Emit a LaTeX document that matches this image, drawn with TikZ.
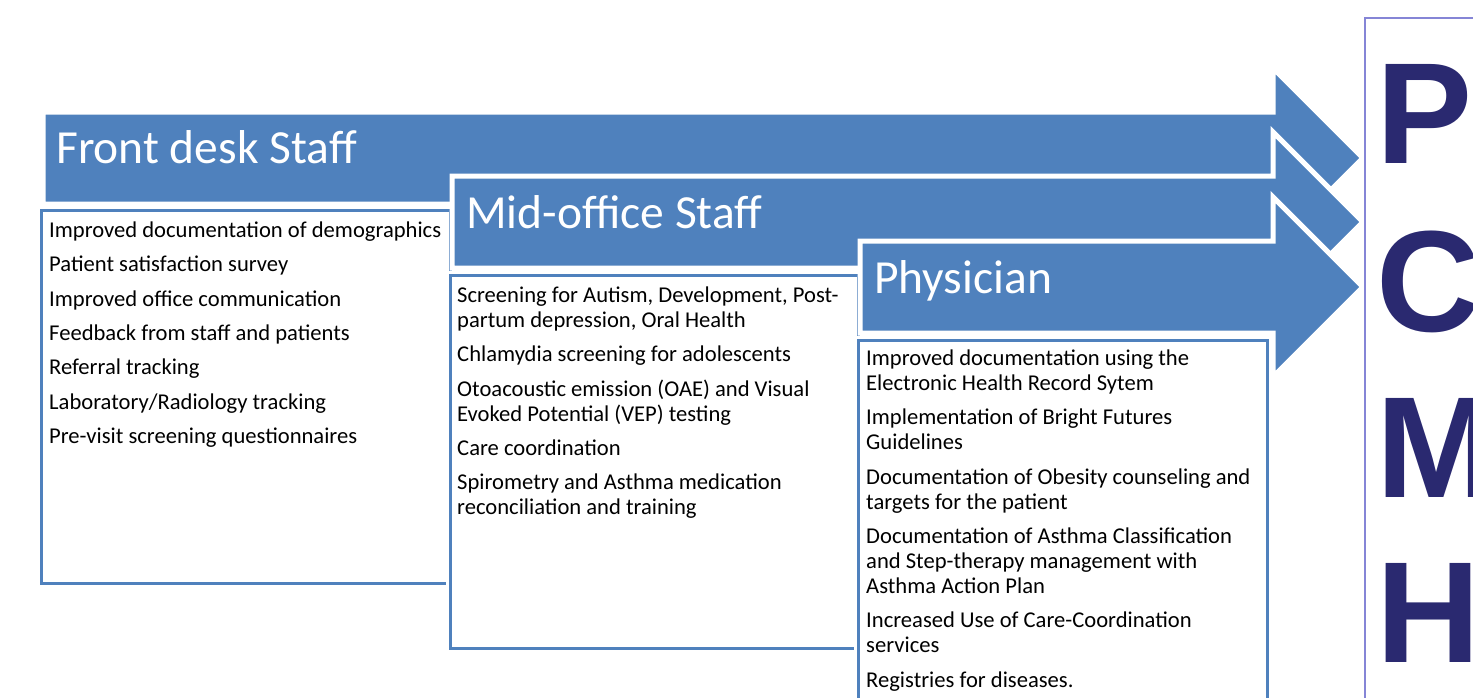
\documentclass[tikz,border=0pt]{standalone}
\usepackage{fontspec}
\setmainfont{Carlito}
\newfontfamily\pcmhfont{Liberation Sans}
\usetikzlibrary{positioning}
\definecolor{stageblue}{HTML}{4F81BD}
\definecolor{pcmhnavy}{HTML}{2A2970}
\definecolor{pcmhframe}{HTML}{8585D6}
% first line of a list always 17pt high
\newcommand{\topline}{\rule{0pt}{17pt}}

\begin{document}
\begin{tikzpicture}[x=1pt, y=-1pt,
  stage/.style={fill=stageblue, draw=white, line width=5pt},
  stagetitle/.style={text=white, font=\fontsize{47.5}{50}\selectfont, anchor=base west, inner sep=0},
  listbox/.style={draw=stageblue, line width=3pt, fill=white, outer sep=0, inner sep=0, anchor=north west, preaction={draw=white, line width=8pt}},
  items/.style={font=\fontsize{22.6}{25}\selectfont, align=left, anchor=north west, inner sep=0},
  pcmhletter/.style={text=pcmhnavy, font=\pcmhfont\bfseries\fontsize{144}{144}\selectfont, anchor=base west, inner sep=0}]
\useasboundingbox (0,0) rectangle (1473,697);
\clip (0,0) rectangle (1473,697);

% front desk staff
\path[stage] (43,112) -- (1273,112) -- (1273,68) -- (1363,158) -- (1273,248) -- (1273,204) -- (43,204) -- cycle;
\node[stagetitle] (front title) at (56,163) {Front desk Staff};
\node[listbox, minimum width=409pt, minimum height=373pt] (front box) at (41,210) {};
\node[items] (front list) at (49,220) {\topline Improved documentation of demographics\\[9.4pt]
  Patient satisfaction survey\\[9.4pt]
  Improved office communication\\[9.4pt]
  Feedback from staff and patients\\[9.4pt]
  Referral tracking\\[9.4pt]
  Laboratory/Radiology tracking\\[9.4pt]
  Pre-visit screening questionnaires};

% mid-office staff
\path[stage] (452,176) -- (1273,176) -- (1273,132) -- (1363,222) -- (1273,312) -- (1273,268) -- (452,268) -- cycle;
\node[stagetitle] (mid title) at (466,228) {Mid-office Staff};
\node[listbox, minimum width=408pt, minimum height=373pt] (mid box) at (450,275) {};
\node[items] (mid list) at (457,285) {\topline Screening for Autism, Development, Post-\\partum depression, Oral Health\\[9.4pt]
  Chlamydia screening for adolescents\\[9.4pt]
  Otoacoustic emission (OAE) and Visual\\Evoked Potential (VEP) testing\\[9.4pt]
  Care coordination\\[9.4pt]
  Spirometry and Asthma medication\\reconciliation and training};

% physician
\path[stage] (860,241) -- (1273,241) -- (1273,197) -- (1363,287) -- (1273,377) -- (1273,333) -- (860,333) -- cycle;
\node[stagetitle] (phys title) at (874,293) {Physician};
\node[listbox, minimum width=409pt, minimum height=380pt] (phys box) at (858,340) {};
\node[items] (phys list) at (866,348) {\topline Improved documentation using the\\Electronic Health Record Sytem\\[9.4pt]
  Implementation of Bright Futures\\Guidelines\\[9.4pt]
  Documentation of Obesity counseling and\\targets for the patient\\[9.4pt]
  Documentation of Asthma Classification\\and Step-therapy management with\\Asthma Action Plan\\[9.4pt]
  Increased Use of Care-Coordination\\services\\[9.4pt]
  Registries for diseases.};

% PCMH column
\node[draw=pcmhframe, line width=2pt, outer sep=0, inner sep=0, anchor=north west,
  minimum width=140pt, minimum height=720pt] (pcmh) at (1365,18) {};
\foreach \ltr/\y in {P/163, C/331, M/497, H/662}
  \node[pcmhletter] (pcmh-\ltr) at (1376,\y) {\ltr};
\end{tikzpicture}
\end{document}
